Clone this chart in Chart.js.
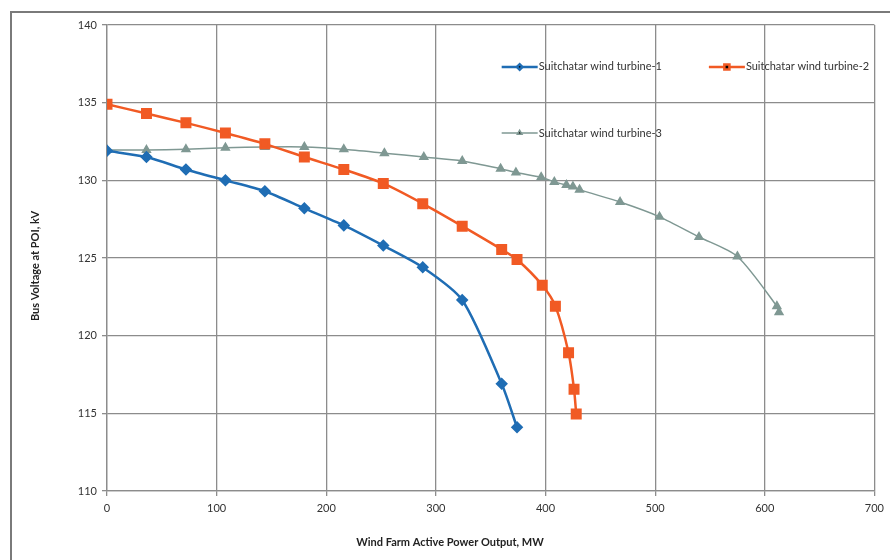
<!DOCTYPE html>
<html>
<head>
<meta charset="utf-8">
<script src="https://cdn.jsdelivr.net/npm/chart.js@4.4.1/dist/chart.umd.min.js"></script>
<style>
  html, body { margin: 0; padding: 0; background: #fff; }
  #wrap { position: relative; width: 890px; height: 560px; }
</style>
</head>
<body>
<div id="wrap"><canvas id="voltChart" width="890" height="560"></canvas></div>
<script>
// values
const seriesNames = ['Suitchatar wind turbine-1', 'Suitchatar wind turbine-2', 'Suitchatar wind turbine-3'];

const turbine1X = [0, 36, 72, 108, 144, 180, 216, 252, 288, 324, 360, 374];
const turbine1Y = [131.9, 131.5, 130.7, 130.0, 129.3, 128.2, 127.1, 125.8, 124.4, 122.3, 116.9, 114.1];

const turbine2X = [0, 36, 72, 108, 144, 180, 216, 252, 288, 324, 360, 374, 397, 409, 421, 426, 428];
const turbine2Y = [134.9, 134.3, 133.7, 133.05, 132.35, 131.5, 130.7, 129.8, 128.5, 127.05, 125.55, 124.9, 123.25, 121.9, 118.9, 116.55, 114.95];

const turbine3X = [0, 36, 72, 108, 144, 180, 216, 253, 289, 324, 359, 373, 396, 408, 419, 425, 431, 468, 504, 540, 575, 611, 613];
const turbine3Y = [131.95, 131.95, 132.0, 132.1, 132.15, 132.15, 132.0, 131.75, 131.5, 131.25, 130.75, 130.5, 130.2, 129.9, 129.7, 129.6, 129.4, 128.6, 127.65, 126.35, 125.1, 121.9, 121.5];

const xTicks = [0, 100, 200, 300, 400, 500, 600, 700];
const yTicks = [110, 115, 120, 125, 130, 135, 140];

const colors = ['#1f6db4', '#f15a24', '#7f9893'];
const FONT = 'Lato, "Open Sans", sans-serif';

function toPoints(xs, ys) {
    return xs.map((x, i) => ({ x: x, y: ys[i] }));
}

// outer frame of the chart object (cropped at right/bottom in the reference)
const framePlugin = {
    id: 'frame',
    beforeDraw(chart) {
        const c = chart.ctx;
        c.save();
        c.fillStyle = '#fff';
        c.fillRect(0, 0, chart.width, chart.height);
        c.strokeStyle = '#7a7a7a';
        c.lineWidth = 2;
        c.beginPath();
        c.moveTo(11, chart.height);
        c.lineTo(11, 12);
        c.lineTo(chart.width, 12);
        c.stroke();
        c.restore();
    }
};

// axis titles and the legend placed the way the reference has them
const labelsPlugin = {
    id: 'labels',
    afterDatasetsDraw(chart) {
        const c = chart.ctx;
        const xs = chart.scales.x, ys = chart.scales.y;
        c.save();
        c.fillStyle = '#222';
        c.font = 'bold 11px ' + FONT;
        c.textAlign = 'center';
        c.textBaseline = 'middle';
        c.fillText('Wind Farm Active Power Output, MW', 450, 542);
        c.translate(35, 266);
        c.rotate(-Math.PI / 2);
        c.fillText('Bus Voltage at POI, kV', 0, 0);
        c.restore();

        const items = [
            { x: 360, y: 137.3, idx: 0 },
            { x: 549, y: 137.3, idx: 1 },
            { x: 360, y: 133.05, idx: 2 }
        ];
        items.forEach(it => {
            const ds = chart.data.datasets[it.idx];
            const px = xs.getPixelForValue(it.x);
            const py = ys.getPixelForValue(it.y);
            c.save();
            c.strokeStyle = ds.borderColor;
            c.lineWidth = ds.borderWidth;
            c.beginPath();
            c.moveTo(px, py);
            c.lineTo(px + 36, py);
            c.stroke();
            Chart.helpers.drawPoint(c, {
                pointStyle: ds.pointStyle,
                radius: ds.pointRadius * 0.6,
                borderWidth: 1
            }, px + 18, py);
            c.fillStyle = '#333';
            c.font = '11px ' + FONT;
            c.textAlign = 'left';
            c.textBaseline = 'middle';
            c.fillText(seriesNames[it.idx], px + 37, py);
            c.restore();
        });
    }
};

function makeDataset(label, xs, ys, color, style, radius, width) {
    return {
        label: label,
        data: toPoints(xs, ys),
        showLine: true,
        borderColor: color,
        backgroundColor: color,
        pointBackgroundColor: color,
        pointBorderColor: color,
        borderWidth: width,
        pointStyle: style,
        pointRadius: radius,
        pointHoverRadius: radius,
        tension: 0.25
    };
}

const ctx = document.getElementById('voltChart');
new Chart(ctx, {
    type: 'scatter',
    data: {
        datasets: [
            makeDataset(seriesNames[0], turbine1X, turbine1Y, colors[0], 'rectRot', 4.5, 2.5),
            makeDataset(seriesNames[1], turbine2X, turbine2Y, colors[1], 'rect', 6, 2.5),
            makeDataset(seriesNames[2], turbine3X, turbine3Y, colors[2], 'triangle', 4.5, 1.5)
        ]
    },
    options: {
        responsive: false,
        animation: false,
        layout: { padding: { left: 0, right: 12, top: 25, bottom: 0 } },
        plugins: {
            legend: { display: false },
            tooltip: { enabled: false }
        },
        scales: {
            x: {
                type: 'linear',
                min: 0,
                max: 700,
                afterBuildTicks: s => { s.ticks = xTicks.map(v => ({ value: v })); },
                afterFit: s => { s.height = 69; },
                grid: { color: '#8c8c8c', lineWidth: 1.3, tickLength: 5, tickColor: '#8c8c8c' },
                border: { color: '#8c8c8c', width: 1.3 },
                ticks: { color: '#333', font: { family: FONT, size: 11 }, padding: 6, maxRotation: 0 }
            },
            y: {
                type: 'linear',
                min: 110,
                max: 140,
                afterBuildTicks: s => { s.ticks = yTicks.map(v => ({ value: v })); },
                afterFit: s => { s.width = 107; },
                grid: { color: '#8c8c8c', lineWidth: 1.3, tickLength: 5, tickColor: '#8c8c8c' },
                border: { color: '#8c8c8c', width: 1.3 },
                ticks: { color: '#333', font: { family: FONT, size: 11 }, padding: 5 }
            }
        }
    },
    plugins: [framePlugin, labelsPlugin]
});
</script>
</body>
</html>
